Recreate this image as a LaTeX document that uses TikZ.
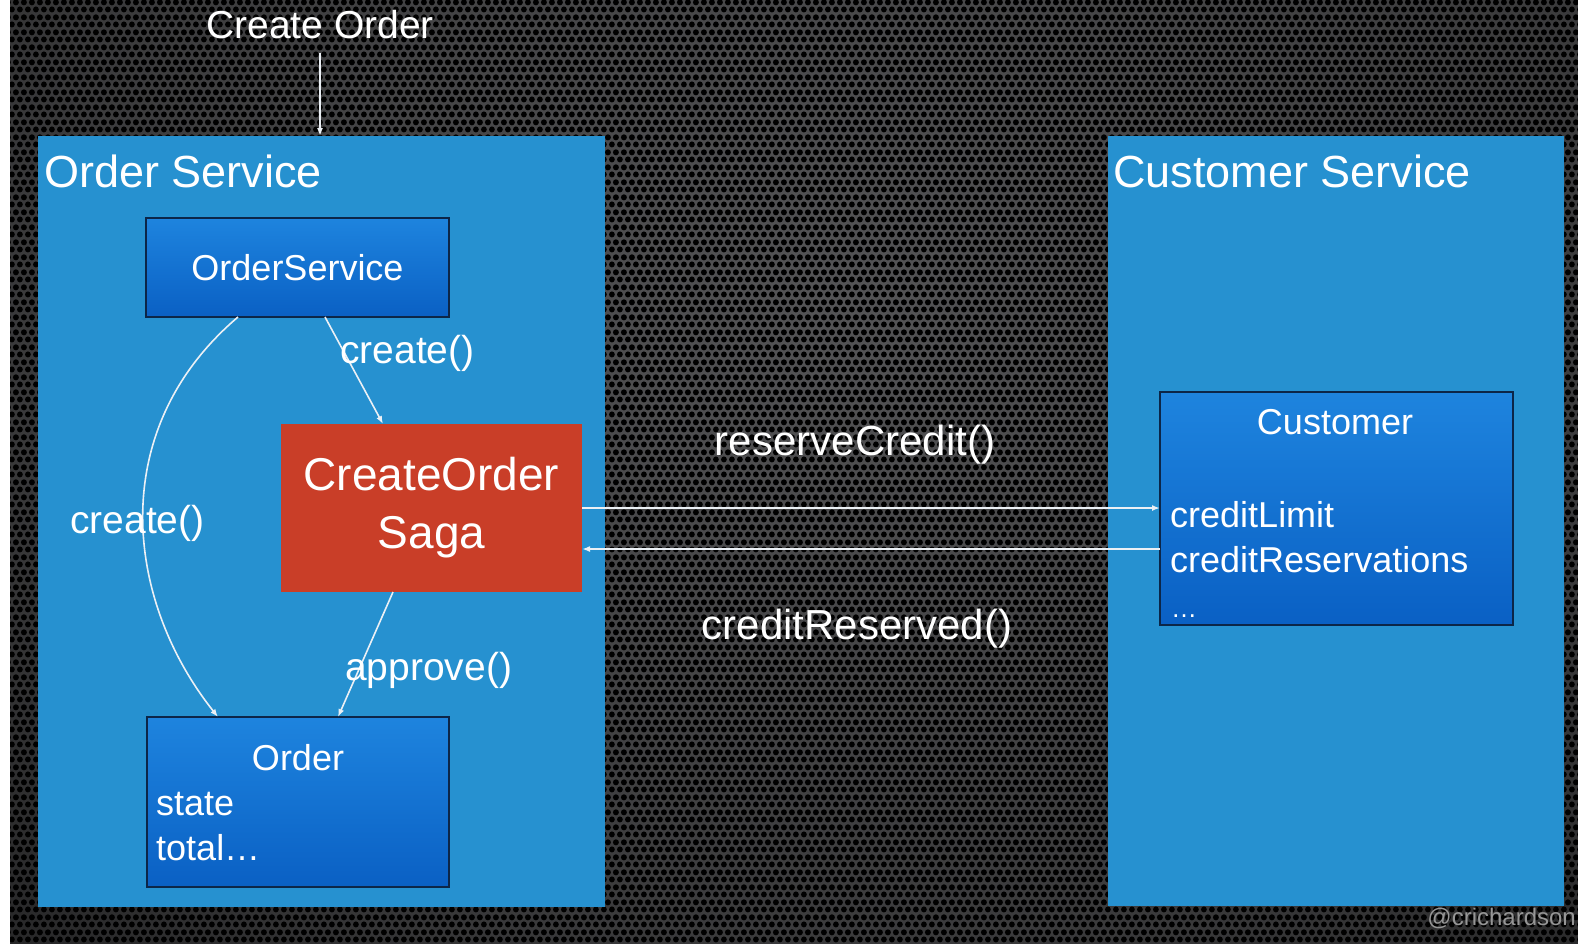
\documentclass[tikz,border=0pt]{standalone}
\usepackage{fontspec}
\setmainfont{Liberation Sans}
\usetikzlibrary{arrows.meta,patterns}

\definecolor{svcblue}{RGB}{38,145,208}
\definecolor{clstop}{RGB}{30,132,222}
\definecolor{clsbot}{RGB}{10,96,196}
\definecolor{clsedge}{RGB}{12,38,72}
\definecolor{sagared}{RGB}{201,62,40}
\definecolor{wire}{RGB}{235,240,245}
\definecolor{bgmid}{RGB}{84,84,86}
\definecolor{sig}{RGB}{150,150,150}

% soft glow behind the perforated backdrop
\pgfdeclareradialshading{bgglow}{\pgfpoint{0bp}{0bp}}{%
  color(0bp)=(bgmid); color(16bp)=(bgmid!70!black); color(30bp)=(bgmid!25!black);
  color(42bp)=(black); color(50bp)=(black)}

% hexagonal perforation: one full hole and two half holes per tile
\pgfdeclarepatternformonly{hexmesh}{\pgfpointorigin}{\pgfqpoint{8.4pt}{14.6pt}}{\pgfqpoint{8.4pt}{14.6pt}}{%
  \pgfpathcircle{\pgfqpoint{4.2pt}{3.65pt}}{3.1pt}%
  \pgfpathcircle{\pgfqpoint{0pt}{10.95pt}}{3.1pt}%
  \pgfpathcircle{\pgfqpoint{8.4pt}{10.95pt}}{3.1pt}%
  \pgfusepath{fill}}

\begin{document}
\begin{tikzpicture}[x=1pt,y=-1pt,
  svc/.style={fill=svcblue, inner sep=0pt, outer sep=0pt, anchor=north west},
  cls/.style={top color=clstop, bottom color=clsbot, draw=clsedge, line width=1.8pt,
              inner sep=0pt, outer sep=0pt, anchor=north west},
  title/.style={text=white, font=\fontsize{45}{54}\selectfont, anchor=base west, inner sep=0pt},
  body/.style={text=white, font=\fontsize{36}{45}\selectfont, inner sep=0pt},
  call/.style={text=white, font=\fontsize{39}{47}\selectfont, inner sep=0pt},
  msg/.style={text=white, font=\fontsize{42}{50}\selectfont, inner sep=0pt, anchor=base},
  flow/.style={draw=wire, line width=1.6pt, -{Latex[length=8pt,width=6pt]}}]

\useasboundingbox (0,0) rectangle (1578,943);

% backdrop
\fill[white] (0,0) rectangle (10,943);
\begin{scope}
  \clip (10,0) rectangle (1578,943);
  \fill[black] (10,0) rectangle (1578,943);
  \shade[shading=bgglow] (840,300) ellipse [x radius=1250, y radius=1000];
  \fill[pattern=hexmesh, pattern color=black] (10,0) rectangle (1578,943);
\end{scope}

% services
\node[svc, minimum width=567pt, minimum height=771pt] (ordersvc) at (38,136) {};
\node[svc, minimum width=456pt, minimum height=770pt] (custsvc) at (1108,136) {};
\node[title] (ordersvctitle) at (44,187) {Order Service};
\node[title] (custsvctitle) at (1113,187) {Customer Service};

% incoming request
\node[call, anchor=base] (request) at (320,38) {Create Order};
\draw[flow] ([yshift=-14pt]request.south) -- (request.south |- ordersvc.north);

% order service internals
\node[cls, body, minimum width=303pt, minimum height=99pt] (osclass) at (146,218) {OrderService};
\node[fill=sagared, anchor=north west, minimum width=301pt, minimum height=168pt,
      inner sep=0pt, outer sep=0pt, text=white, align=center,
      font=\fontsize{46}{58}\selectfont] (saga) at (281,424) {CreateOrder\\Saga};
\node[cls, minimum width=302pt, minimum height=170pt] (order) at (147,717) {};
\node[body, anchor=base] (ordername) at (298,770) {Order};
\node[body, anchor=base west] (orderstate) at (156,815) {state};
\node[body, anchor=base west] (ordertotal) at (156,860) {total…};

% customer service internals
\node[cls, minimum width=353pt, minimum height=233pt] (customer) at (1160,392) {};
\node[body, anchor=base] (custname) at (1335,434) {Customer};
\node[body, anchor=base west] (custlimit) at (1170,527) {creditLimit};
\node[body, anchor=base west] (custres) at (1170,572) {creditReservations};
\node[body, anchor=base west, font=\fontsize{26}{30}\selectfont] (custmore) at (1171,617) {…};

% calls inside the order service
\draw[flow] ([xshift=179pt]osclass.south west) -- ([xshift=102pt]saga.north west);
\node[call, anchor=base west] (lblcreatesaga) at (340,363) {create()};
\draw[flow] ([xshift=92pt]osclass.south west)
  .. controls (105,430) and (125,600) .. ([xshift=71pt]order.north west);
\node[call, anchor=base west] (lblcreateorder) at (70,533) {create()};
\draw[flow] ([xshift=112pt]saga.south west) -- ([xshift=191pt]order.north west);
\node[call, anchor=base west] (lblapprove) at (345,680) {approve()};

% messages between services
\draw[flow] ([yshift=-84pt]saga.north east) -- ([yshift=-116pt]customer.north west);
\node[msg] (lblreserve) at (855,455) {reserveCredit()};
\draw[flow] ([yshift=-157pt]customer.north west) -- ([yshift=-125pt]saga.north east);
\node[msg] (lblreserved) at (857,639) {creditReserved()};

% signature
\node[anchor=base east, text=sig, font=\fontsize{24}{28}\selectfont, inner sep=0pt]
  (signature) at (1576,925) {@crichardson};
\end{tikzpicture}
\end{document}
